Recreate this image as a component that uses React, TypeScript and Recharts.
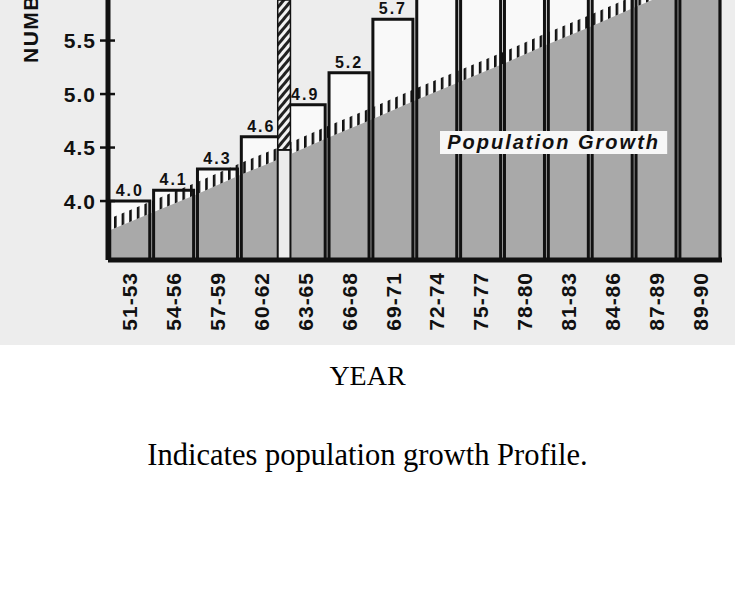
import React from 'react';
import {
  ComposedChart,
  Bar,
  Area,
  XAxis,
  YAxis,
  LabelList,
  ReferenceArea,
} from 'recharts';

// Three-year periods (x categories)
const periods = [
  '51-53', '54-56', '57-59', '60-62', '63-65', '66-68', '69-71',
  '72-74', '75-77', '78-80', '81-83', '84-86', '87-89', '89-90',
];
// Bar values (the last seven run above the cropped top; estimated)
const numbers = [4.0, 4.1, 4.3, 4.6, 4.9, 5.2, 5.7, 6.1, 6.4, 6.7, 7.0, 7.3, 7.6, 7.9];

// Population growth line, read at the period boundaries (0 = start of 51-53, 14 = end of 89-90)
const growthPositions = [0, 1, 2, 3, 4, 5, 6, 7, 8, 9, 10, 11, 12, 13, 14];
const growthValues = [3.72, 3.89, 4.06, 4.24, 4.41, 4.59, 4.76, 4.94, 5.11, 5.28, 5.46, 5.63, 5.81, 5.98, 6.15];

// Y axis
const yTicks = [4.0, 4.5, 5.0, 5.5];
const yDomain: [number, number] = [3.449, 5.879];

// Annotations
const separatorPosition = 4; // between 60-62 and 63-65
const separatorFrom = 4.48;
const growthLabel = 'Population Growth';
const yLabel = 'NUMBER';

const barData = periods.map((period, i) => ({ period, number: numbers[i] }));
const growthData = growthPositions.map((pos, i) => ({
  pos,
  growth: growthValues[i],
  band: [growthValues[i], growthValues[i] + 0.11],
}));

const SANS = "'Liberation Sans', Arial, Helvetica, sans-serif";
const SERIF = "'Liberation Serif', 'Times New Roman', Times, serif";
const INK = '#111';

const PeriodTick = (props: any) => {
  const { x, y, payload } = props;
  return (
    <text
      x={x}
      y={y}
      transform={`rotate(-90 ${x} ${y})`}
      textAnchor="end"
      dominantBaseline="central"
      fontSize={21}
      fontWeight="bold"
      fontFamily={SANS}
      letterSpacing={1}
      fill={INK}
    >
      {payload.value}
    </text>
  );
};

// Y tick: label plus a tick mark that crosses the axis line
const ValueTick = (props: any) => {
  const { x, y, payload } = props;
  return (
    <g>
      <line x1={x + 4} x2={x + 19} y1={y} y2={y} stroke={INK} strokeWidth={2.5} />
      <text
        x={x}
        y={y}
        textAnchor="end"
        dominantBaseline="central"
        fontSize={21}
        fontWeight="bold"
        fontFamily={SANS}
        letterSpacing={1}
        fill={INK}
      >
        {Number(payload.value).toFixed(1)}
      </text>
    </g>
  );
};

const YLabel = (props: any) => {
  const vb = props.viewBox || { x: 0, y: 0 };
  const x = vb.x + 30;
  const y = vb.y + 63;
  return (
    <text
      x={x}
      y={y}
      transform={`rotate(-90 ${x} ${y})`}
      textAnchor="start"
      dominantBaseline="central"
      fontSize={21}
      fontWeight="bold"
      fontFamily={SANS}
      letterSpacing={1.5}
      fill={INK}
    >
      {yLabel}
    </text>
  );
};

const GrowthLabel = (props: any) => {
  const vb = props.viewBox || { x: 0, y: 0, width: 0, height: 0 };
  return (
    <text
      x={vb.x + vb.width / 2}
      y={vb.y + vb.height / 2}
      textAnchor="middle"
      dominantBaseline="central"
      fontSize={20}
      fontWeight="bold"
      fontStyle="italic"
      fontFamily={SANS}
      letterSpacing={2}
      fill={INK}
    >
      {growthLabel}
    </text>
  );
};

export default function App() {
  return (
    <div style={{ position: 'absolute', left: 0, top: 0, width: 735, height: 609, background: '#fff' }}>
      <div style={{ width: 735, height: 345, background: '#ededed' }}>
        <ComposedChart
          width={735}
          height={345}
          data={barData}
          margin={{ top: 0, right: 13, bottom: 0, left: 0 }}
          barCategoryGap="4%"
        >
          <defs>
            <pattern id="tickMarks" patternUnits="userSpaceOnUse" width="7.6" height="20">
              <rect x="0" y="0" width="2.6" height="20" fill={INK} />
            </pattern>
            <pattern id="rope" patternUnits="userSpaceOnUse" width="6" height="6" patternTransform="rotate(40)">
              <rect x="0" y="0" width="6" height="6" fill="#f2f2f2" />
              <rect x="0" y="0" width="3" height="6" fill="#222" />
            </pattern>
          </defs>
          <XAxis
            xAxisId="a"
            dataKey="period"
            type="category"
            height={85}
            tickLine={false}
            tickSize={0}
            tickMargin={12}
            interval={0}
            axisLine={{ stroke: INK, strokeWidth: 5 }}
            tick={<PeriodTick />}
          />
          <XAxis xAxisId="b" dataKey="period" type="category" hide />
          <XAxis xAxisId="g" dataKey="pos" type="number" domain={[0, 14]} allowDataOverflow hide />
          <YAxis
            width={108}
            domain={yDomain}
            allowDataOverflow
            ticks={yTicks}
            interval={0}
            axisLine={{ stroke: INK, strokeWidth: 5 }}
            tickLine={false}
            tickSize={8}
            tickMargin={4}
            tick={<ValueTick />}
            label={{ content: <YLabel /> }}
          />
          <Bar
            xAxisId="a"
            dataKey="number"
            fill="#f9f9f9"
            stroke="none"
            isAnimationActive={false}
            zIndex={10}
          />
          <Area
            xAxisId="g"
            data={growthData}
            dataKey="growth"
            type="linear"
            fill="#a9a9a9"
            fillOpacity={1}
            stroke="none"
            isAnimationActive={false}
            zIndex={20}
          />
          <Area
            xAxisId="g"
            data={growthData}
            dataKey="band"
            type="linear"
            fill="url(#tickMarks)"
            fillOpacity={1}
            stroke="none"
            isAnimationActive={false}
            zIndex={30}
          />
          <Bar
            xAxisId="b"
            dataKey="number"
            fill="none"
            stroke={INK}
            strokeWidth={3}
            isAnimationActive={false}
            zIndex={40}
          >
            <LabelList
              dataKey="number"
              position="top"
              offset={5}
              formatter={(v: any) => (Number(v) <= yDomain[1] ? Number(v).toFixed(1) : '')}
              style={{ fontSize: 16, fontWeight: 'bold', fill: INK, fontFamily: SANS, letterSpacing: 2 }}
            />
          </Bar>
          <ReferenceArea
            xAxisId="g"
            x1={separatorPosition - 0.13}
            x2={separatorPosition + 0.16}
            y1={yDomain[0]}
            y2={separatorFrom}
            fill="#ececec"
            fillOpacity={1}
            stroke={INK}
            strokeWidth={2}
            ifOverflow="hidden"
            zIndex={50}
          />
          <ReferenceArea
            xAxisId="g"
            x1={separatorPosition - 0.13}
            x2={separatorPosition + 0.16}
            y1={separatorFrom}
            y2={yDomain[1]}
            fill="url(#rope)"
            fillOpacity={1}
            stroke={INK}
            strokeWidth={1.5}
            ifOverflow="hidden"
            zIndex={55}
          />
          <ReferenceArea
            xAxisId="g"
            x1={7.57}
            x2={12.75}
            y1={4.44}
            y2={4.655}
            fill="#f7f7f7"
            fillOpacity={1}
            stroke="none"
            label={<GrowthLabel />}
            zIndex={60}
          />
        </ComposedChart>
      </div>
      <div
        style={{
          position: 'absolute',
          left: 0,
          top: 362,
          width: 735,
          textAlign: 'center',
          fontFamily: SERIF,
          fontSize: 28,
          lineHeight: '28px',
          color: '#000',
        }}
      >
        YEAR
      </div>
      <div
        style={{
          position: 'absolute',
          left: 0,
          top: 440,
          width: 735,
          textAlign: 'center',
          fontFamily: SERIF,
          fontSize: 30.5,
          lineHeight: '30px',
          color: '#000',
        }}
      >
        Indicates population growth Profile.
      </div>
    </div>
  );
}
